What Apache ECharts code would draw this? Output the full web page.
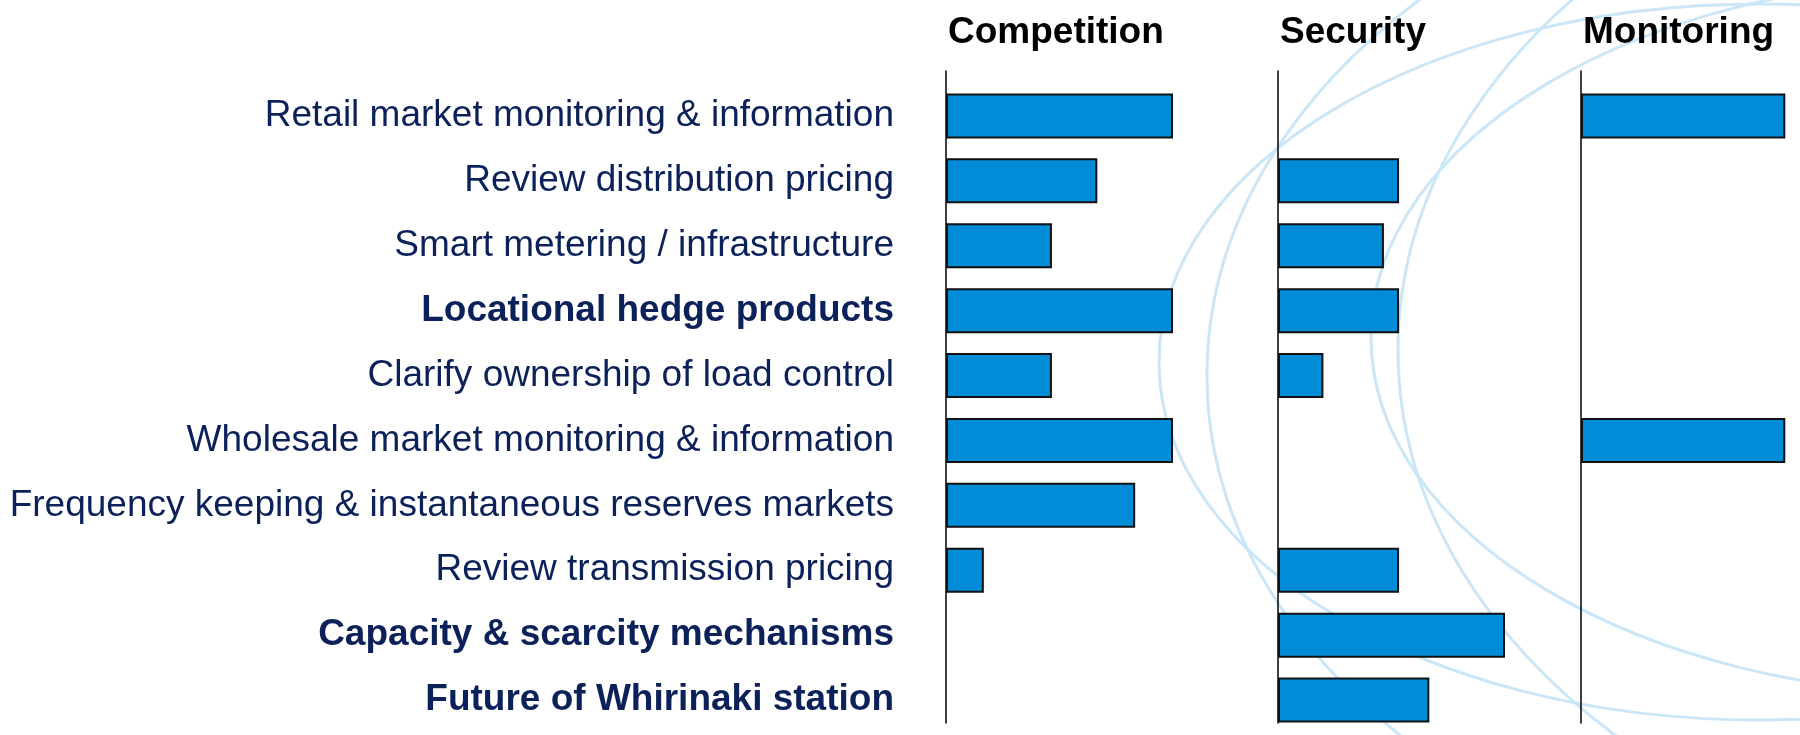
<!DOCTYPE html>
<html>
<head>
    <meta charset="utf-8">
    <script src="https://cdn.jsdelivr.net/npm/echarts@6/dist/echarts.min.js"></script>
    <style>
        html, body {margin: 0; padding: 0; background: #fff;}
        #chart {width: 1800px; height: 735px;}
    </style>
</head>
<body>
<div id="chart"></div>
<script>
    const categories = [
        'Retail market monitoring & information',
        'Review distribution pricing',
        'Smart metering / infrastructure',
        'Locational hedge products',
        'Clarify ownership of load control',
        'Wholesale market monitoring & information',
        'Frequency keeping & instantaneous reserves markets',
        'Review transmission pricing',
        'Capacity & scarcity mechanisms',
        'Future of Whirinaki station'
    ];
    const boldCategories = ['Locational hedge products', 'Capacity & scarcity mechanisms', 'Future of Whirinaki station'];
    const panelNames = ['Competition', 'Security', 'Monitoring'];
    const competition = [6, 4, 2.8, 6, 2.8, 6, 5, 1, null, null];
    const security = [null, 3.2, 2.8, 3.2, 1.2, null, null, 3.2, 6, 4];
    const monitoring = [5.4, null, null, null, null, 5.4, null, null, null, null];

    const panelData = [competition, security, monitoring];
    const panelLeft = [946, 1278, 1581];
    const panelWidth = [227, 227, 219];
    const unitPx = 227 / 6; // same scale in every panel
    const font = 'Liberation Sans, Arial, sans-serif';
    // background logo arcs [cx, cy, rx, ry]
    const arcs = [[1759, 362, 600, 358], [1994, 375, 787, 549], [1971, 337, 600, 358], [2190, 350, 792, 560]];

    const chart = echarts.init(document.getElementById('chart'));
    const grid = [], xAxis = [], yAxis = [], series = [];
    panelData.forEach((d, i) => {
        // bars
        grid.push({left: panelLeft[i], width: panelWidth[i], top: 83.5, height: 649});
        xAxis.push({type: 'value', gridIndex: i * 2, min: 0, max: panelWidth[i] / unitPx, show: false});
        yAxis.push({
            type: 'category', gridIndex: i * 2, data: categories, inverse: true,
            axisLine: {show: false}, axisTick: {show: false}, splitLine: {show: false},
            axisLabel: {
                show: i === 0, margin: 52, fontSize: 37, fontFamily: font, color: '#0c215a',
                formatter: v => boldCategories.includes(v) ? '{b|' + v + '}' : '{n|' + v + '}',
                rich: {
                    b: {fontSize: 37, fontFamily: font, fontWeight: 'bold', color: '#0c215a'},
                    n: {fontSize: 37, fontFamily: font, color: '#0c215a'}
                }
            }
        });
        series.push({
            name: panelNames[i], type: 'bar', xAxisIndex: i * 2, yAxisIndex: i * 2, data: d, barWidth: 45,
            itemStyle: {color: '#028cd7', borderColor: '#111', borderWidth: 2}, silent: true
        });
        // vertical axis line
        grid.push({left: panelLeft[i], width: panelWidth[i], top: 71, height: 652});
        xAxis.push({type: 'value', gridIndex: i * 2 + 1, show: false});
        yAxis.push({
            type: 'value', gridIndex: i * 2 + 1,
            axisLine: {show: true, onZero: false, lineStyle: {color: '#000', width: 1.5}},
            axisTick: {show: false}, axisLabel: {show: false}, splitLine: {show: false}
        });
    });

    chart.setOption({
        animation: false,
        backgroundColor: '#fff',
        title: panelNames.map((n, i) => ({
            text: n, left: panelLeft[i] + 2, top: 14, padding: 0,
            textStyle: {fontSize: 37, fontWeight: 'bold', color: '#000', fontFamily: font}
        })),
        graphic: arcs.map(a => ({
            type: 'ellipse', z: -1, silent: true,
            shape: {cx: a[0], cy: a[1], rx: a[2], ry: a[3]},
            style: {fill: 'transparent', stroke: '#cbe6f7', lineWidth: 3}
        })),
        grid: grid,
        xAxis: xAxis,
        yAxis: yAxis,
        series: series
    });
</script>
</body>
</html>
